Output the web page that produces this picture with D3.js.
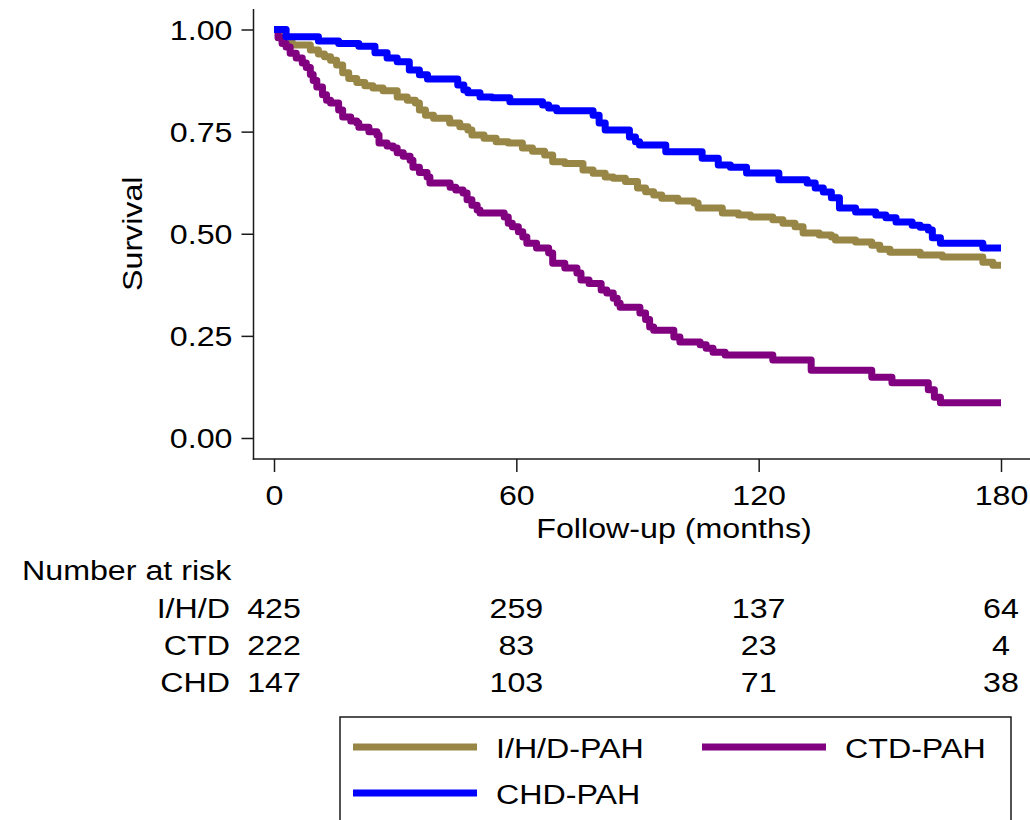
<!DOCTYPE html>
<html>
<head>
<meta charset="utf-8">
<script src="https://cdn.jsdelivr.net/npm/d3@7"></script>
<style>
  body { margin: 0; background: #fff; }
  svg { display: block; font-family: "Liberation Sans", Arial, Helvetica, sans-serif; }
</style>
</head>
<body>
<svg id="grafico" width="1030" height="820"></svg>
<script>
// Dados: [meses, sobrevida] (Kaplan-Meier)
const ihd = [[0,1],[1.5,0.98],[3,0.97],[4.5,0.962],[9,0.95],[11,0.94],[12.5,0.933],[14,0.925],[15.5,0.913],
  [17,0.894],[18.5,0.88],[20.5,0.87],[22.5,0.862],[24.5,0.857],[27,0.85],[30.5,0.835],[33,0.827],[35,0.82],
  [36,0.803],[37.5,0.79],[39.5,0.783],[43.5,0.771],[46,0.762],[48,0.754],[49,0.742],[52,0.734],[55,0.725],
  [58,0.722],[61.5,0.71],[64,0.702],[67,0.693],[69,0.676],[72,0.672],[76.5,0.656],[79,0.648],[82,0.639],
  [84,0.636],[87,0.628],[90,0.612],[92,0.603],[94,0.595],[96,0.587],[100,0.58],[104,0.575],[105,0.563],
  [111,0.551],[115,0.546],[118,0.541],[123.5,0.534],[126,0.526],[129,0.517],[131,0.502],[135,0.497],
  [138,0.492],[139,0.485],[144,0.48],[148,0.472],[150,0.462],[152.5,0.455],[160,0.448],[165.5,0.443],
  [175.5,0.43],[178,0.423],[180,0.423]];

const ctd = [[0,1],[1,0.98],[2,0.966],[3,0.957],[4,0.942],[5.5,0.93],[7,0.918],[8,0.907],[9,0.89],
  [9.7,0.875],[10.6,0.859],[12,0.84],[13,0.827],[14,0.82],[16,0.803],[17,0.786],[19,0.776],[20.5,0.771],
  [21,0.761],[23.5,0.75],[25.5,0.742],[26,0.722],[28,0.715],[29.5,0.71],[30.5,0.698],[32,0.69],[33.7,0.68],
  [34.4,0.663],[36,0.65],[37.9,0.639],[38.6,0.624],[43.6,0.614],[45,0.607],[46.8,0.6],[47.8,0.583],
  [49,0.57],[50.3,0.558],[51,0.551],[57,0.541],[58,0.526],[59,0.517],[60.5,0.505],[61.6,0.492],
  [62.6,0.477],[65,0.465],[68,0.453],[69,0.428],[72,0.416],[75,0.404],[76,0.387],[78,0.378],[81,0.362],
  [82.4,0.355],[84,0.342],[85,0.33],[85.7,0.32],[90.6,0.306],[92,0.29],[93,0.272],[94,0.264],[99,0.247],
  [100.5,0.235],[105.5,0.228],[107,0.22],[108.7,0.21],[111.7,0.203],[123.5,0.191],[133,0.166],
  [148,0.149],[153,0.135],[162,0.118],[163.5,0.1],[165,0.086],[180,0.086]];

const chd = [[0,1],[3,0.982],[11,0.972],[16,0.966],[21,0.959],[25,0.943],[28,0.93],[30.5,0.921],
  [33.5,0.901],[36,0.889],[38,0.879],[45.5,0.864],[47,0.852],[48,0.845],[51,0.835],[54,0.833],
  [58.4,0.823],[66.5,0.815],[68,0.808],[70,0.801],[79,0.79],[80.5,0.771],[82,0.754],[88,0.737],
  [89.5,0.725],[90.5,0.717],[97,0.701],[106,0.685],[110,0.668],[113,0.663],[117,0.649],[125,0.632],
  [132,0.624],[134,0.612],[136,0.602],[138,0.588],[140,0.563],[144,0.553],[149,0.546],[151.5,0.539],
  [154,0.529],[158,0.521],[160,0.516],[162,0.509],[163,0.49],[165,0.477],[175.5,0.465],[180,0.465]];

const xTicks = [0, 60, 120, 180];
const yTicks = [0, 0.25, 0.5, 0.75, 1];
const grupos = ["I/H/D", "CTD", "CHD"];
const emRisco = [[425, 259, 137, 64], [222, 83, 23, 4], [147, 103, 71, 38]];
const rotulos = ["I/H/D-PAH", "CTD-PAH", "CHD-PAH"];
const cores = ["#978646", "#800080", "#0000ff"];
const series = [ihd, ctd, chd];

const svg = d3.select("#grafico");
const fs = 28, esticar = 1.15; // texto Helvetica largo
const tinta = "#1a1a1a";

const fnX = d3.scaleLinear().domain([0, 180]).range([274, 1001]);
const fnY = d3.scaleLinear().domain([0, 1]).range([438, 29.5]);
const eixoX = 253.5, eixoY = 459;

function texto(g, s, x, y, anchor) {
  return g.append("text")
    .attr("transform", `translate(${x},${y}) scale(${esticar},1)`)
    .attr("text-anchor", anchor || "start")
    .attr("font-size", fs)
    .attr("fill", "#000")
    .text(s);
}

// Eixo Y
const gy = svg.append("g")
  .attr("transform", `translate(${eixoX},0)`)
  .call(d3.axisLeft(fnY).tickValues(yTicks).tickFormat(d3.format(".2f")).tickSize(12).tickSizeOuter(0));
gy.select(".domain").remove();
gy.selectAll(".tick line").attr("stroke", tinta).attr("stroke-width", 1.5);
gy.selectAll(".tick text")
  .attr("font-size", fs).attr("font-family", null).attr("fill", "#000")
  .attr("x", -21 / esticar).attr("dy", "0.35em")
  .attr("transform", `scale(${esticar},1)`);
svg.append("line").attr("x1", eixoX).attr("x2", eixoX).attr("y1", 9).attr("y2", eixoY + 0.75)
  .attr("stroke", tinta).attr("stroke-width", 1.5);

// Eixo X
const gx = svg.append("g")
  .attr("transform", `translate(0,${eixoY})`)
  .call(d3.axisBottom(fnX).tickValues(xTicks).tickSize(13).tickSizeOuter(0));
gx.select(".domain").remove();
gx.selectAll(".tick line").attr("stroke", tinta).attr("stroke-width", 1.5);
gx.selectAll(".tick text")
  .attr("font-size", fs).attr("font-family", null).attr("fill", "#000")
  .attr("y", 26).attr("dy", "0.71em")
  .attr("transform", `scale(${esticar},1)`);
svg.append("line").attr("x1", eixoX - 0.75).attr("x2", 1030).attr("y1", eixoY).attr("y2", eixoY)
  .attr("stroke", tinta).attr("stroke-width", 1.5);

// Títulos dos eixos
texto(svg, "Follow-up (months)", 674, 538, "middle");
svg.append("text")
  .attr("transform", `translate(142,${(fnY(0) + fnY(1)) / 2}) rotate(-90) scale(${esticar},1)`)
  .attr("text-anchor", "middle").attr("font-size", fs).text("Survival");

// Curvas
const linha = d3.line().x(d => fnX(d[0])).y(d => fnY(d[1])).curve(d3.curveStepAfter);
svg.selectAll(".curva")
  .data(series)
  .enter()
  .append("path")
  .classed("curva", true)
  .attr("d", d => linha(d))
  .attr("fill", "none")
  .attr("stroke", (d, i) => cores[i])
  .attr("stroke-width", 7)
  .attr("stroke-linejoin", "round");

// Número em risco
texto(svg, "Number at risk", 22, 580);
grupos.forEach((g, i) => {
  const yb = 618 + i * 37;
  texto(svg, g, 230, yb, "end");
  emRisco[i].forEach((n, j) => texto(svg, n, fnX(xTicks[j]), yb, "middle"));
});

// Legenda
svg.append("rect").attr("x", 340).attr("y", 717).attr("width", 671).attr("height", 120)
  .attr("fill", "none").attr("stroke", tinta).attr("stroke-width", 1.5);
const posLeg = [[353, 747], [702, 747], [353, 793]];
rotulos.forEach((r, i) => {
  const [lx, ly] = posLeg[i];
  svg.append("line").attr("x1", lx).attr("x2", lx + 124).attr("y1", ly).attr("y2", ly)
    .attr("stroke", cores[i]).attr("stroke-width", 7);
  texto(svg, r, lx + 143, ly + 11);
});
</script>
</body>
</html>
